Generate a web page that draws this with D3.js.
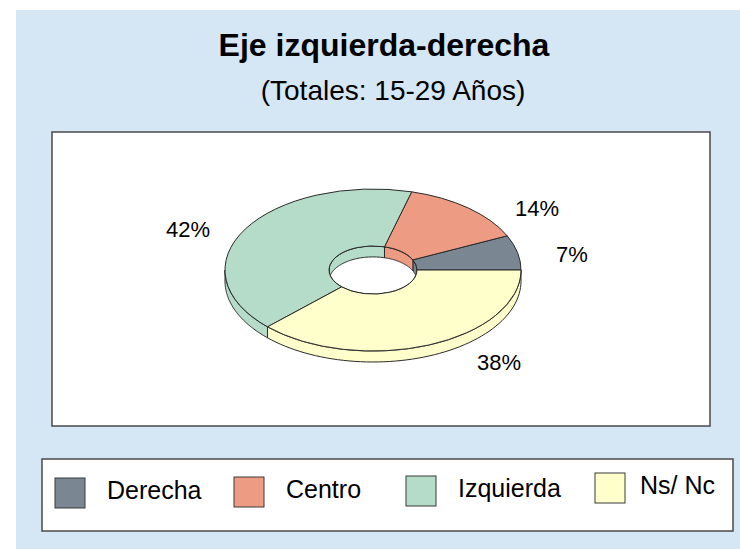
<!DOCTYPE html>
<html>
<head>
<meta charset="utf-8">
<script src="https://cdn.jsdelivr.net/npm/d3@7"></script>
<style>
  body { margin: 0; background: #fff; }
  svg { display: block; font-family: "Liberation Sans", Arial, sans-serif; }
</style>
</head>
<body>
<script>
// data
const categories = ["Derecha", "Centro", "Izquierda", "Ns/ Nc"];
const values = [7, 14, 42, 38];
const labels = ["7%", "14%", "42%", "38%"];
const colors = ["#7a8792", "#ee9b83", "#b4dcc8", "#ffffcc"];

const W = 740, H = 549;
const svg = d3.select("body").append("svg")
    .attr("width", W)
    .attr("height", H);

// background panel
svg.append("rect")
    .attr("x", 16).attr("y", 10)
    .attr("width", W - 16).attr("height", H - 10)
    .attr("fill", "#d5e7f5");

svg.append("text")
    .attr("x", 384).attr("y", 56)
    .attr("text-anchor", "middle")
    .attr("font-size", 32)
    .attr("font-weight", "bold")
    .text("Eje izquierda-derecha");

svg.append("text")
    .attr("x", 393).attr("y", 100)
    .attr("text-anchor", "middle")
    .attr("font-size", 28)
    .text("(Totales: 15-29 Años)");

// plot area
svg.append("rect")
    .attr("x", 52).attr("y", 132)
    .attr("width", 658).attr("height", 294)
    .attr("fill", "#fff")
    .attr("stroke", "#4a4a4a")
    .attr("stroke-width", 1.5);

// 3d doughnut
const cx = 373, cy = 270, rx = 148, ry = 81, ri = 44, depth = 11;
const k = ry / rx;

// counter clockwise from 3 o'clock
const pie = d3.pie().sort(null)
    .startAngle(Math.PI / 2)
    .endAngle(Math.PI / 2 - 2 * Math.PI);
const arcs = pie(values);

function pt(r, a, dy) {
    return [cx + r * Math.sin(a), cy - r * k * Math.cos(a) + dy];
}

function wallPath(r, a0, a1) {
    let n = 60, top = [], bot = [];
    for (let i = 0; i <= n; i++) {
        let a = a0 + (a1 - a0) * i / n;
        top.push(pt(r, a, 0));
        bot.push(pt(r, a, depth));
    }
    return d3.line()(top.concat(bot.reverse())) + "Z";
}

// clip a range [lo, hi] with slice angles (start > end)
function overlap(d, lo, hi) {
    let a = Math.min(d.startAngle, d.endAngle), b = Math.max(d.startAngle, d.endAngle);
    let s = Math.max(a, lo), e = Math.min(b, hi);
    return s < e ? [s, e] : null;
}

const pieG = svg.append("g");

// outer front walls
arcs.forEach((d, i) => {
    let o = overlap(d, -3 * Math.PI / 2, -Math.PI / 2);
    if (o) {
        pieG.append("path")
            .attr("d", wallPath(rx, o[0], o[1]))
            .attr("fill", colors[i])
            .attr("stroke", "#2a2a2a")
            .attr("stroke-width", 1);
    }
});

// inner back walls, seen through the hole
svg.append("clipPath").attr("id", "hole")
    .append("ellipse")
    .attr("cx", cx).attr("cy", cy)
    .attr("rx", ri).attr("ry", ri * k);

const innerG = pieG.append("g").attr("clip-path", "url(#hole)");
arcs.forEach((d, i) => {
    let o = overlap(d, -Math.PI / 2, Math.PI / 2);
    if (o) {
        innerG.append("path")
            .attr("d", wallPath(ri, o[0], o[1]))
            .attr("fill", colors[i])
            .attr("stroke", "#2a2a2a")
            .attr("stroke-width", 1);
    }
});
pieG.append("ellipse")
    .attr("cx", cx).attr("cy", cy)
    .attr("rx", ri).attr("ry", ri * k)
    .attr("fill", "none")
    .attr("stroke", "#2a2a2a");

// top faces
const arc = d3.arc().innerRadius(ri).outerRadius(rx);
pieG.append("g")
    .attr("transform", `translate(${cx},${cy}) scale(1,${k})`)
    .selectAll("path")
    .data(arcs)
    .join("path")
        .attr("d", arc)
        .attr("fill", (d, i) => colors[i])
        .attr("stroke", "#2a2a2a")
        .attr("stroke-width", 1)
        .attr("vector-effect", "non-scaling-stroke");

// percent labels
const labelPos = [[572, 262], [537, 216], [188, 237], [499, 370]];
svg.selectAll("text.pct")
    .data(labels)
    .join("text")
        .attr("class", "pct")
        .attr("x", (d, i) => labelPos[i][0])
        .attr("y", (d, i) => labelPos[i][1])
        .attr("text-anchor", "middle")
        .attr("font-size", 22)
        .text(d => d);

// legend
svg.append("rect")
    .attr("x", 42).attr("y", 459)
    .attr("width", 691).attr("height", 72)
    .attr("fill", "#fff")
    .attr("stroke", "#4a4a4a")
    .attr("stroke-width", 1.5);

const legX = [55, 234, 406, 595];
const legY = [478, 477, 476, 473];
const leg = svg.selectAll("g.leg")
    .data(categories)
    .join("g")
        .attr("class", "leg")
        .attr("transform", (d, i) => `translate(${legX[i]},${legY[i]})`);

leg.append("rect")
    .attr("width", 30).attr("height", 30)
    .attr("fill", (d, i) => colors[i])
    .attr("stroke", "#3a3a3a")
    .attr("stroke-width", 1);

leg.append("text")
    .attr("x", (d, i) => i == 3 ? 45 : 52)
    .attr("y", 21)
    .attr("font-size", 25)
    .text(d => d);
</script>
</body>
</html>
